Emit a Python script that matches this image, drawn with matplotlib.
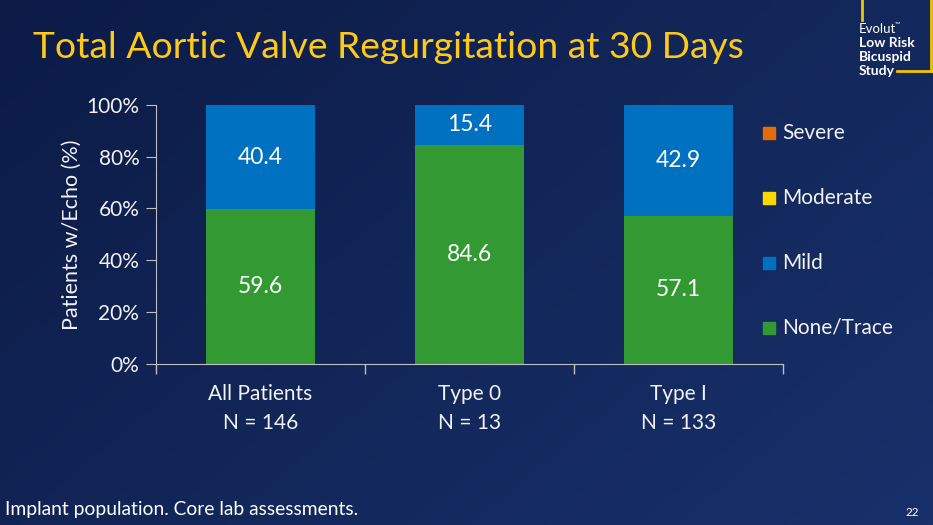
import numpy as np
import matplotlib
matplotlib.use("Agg")
import matplotlib.pyplot as plt

categories = ["All Patients\nN = 146", "Type 0\nN = 13", "Type I\nN = 133"]
none_trace = [59.6, 84.6, 57.1]
mild = [40.4, 15.4, 42.9]
moderate = [0.0, 0.0, 0.0]
severe = [0.0, 0.0, 0.0]
y_ticks = [0, 20, 40, 60, 80, 100]

plt.rcParams["font.family"] = ["Lato", "DejaVu Sans"]
TXT = "#f2f2f2"
colors = {"None/Trace": "#339933", "Mild": "#0070c0",
          "Moderate": "#ffd700", "Severe": "#e36c09"}

fig = plt.figure(figsize=(9.33, 5.25), dpi=100)

# background gradient
bg = fig.add_axes([0, 0, 1, 1])
gx = np.linspace(0, 1, 200)
gy = np.linspace(0, 1, 120)
X, Y = np.meshgrid(gx, gy)
t = 0.6 * X + 0.4 * Y
c0 = np.array([0x0c, 0x1b, 0x46]) / 255
c1 = np.array([0x18, 0x31, 0x6b]) / 255
img = c0[None, None, :] * (1 - t[..., None]) + c1[None, None, :] * t[..., None]
bg.imshow(img, aspect="auto", extent=[0, 1, 0, 1], origin="upper")
bg.set_xlim(0, 1)
bg.set_ylim(0, 1)
bg.axis("off")

ax = fig.add_axes([156 / 933, 1 - 363.5 / 525, (783 - 156) / 933, (363.5 - 105) / 525])
ax.patch.set_alpha(0)
x = np.arange(len(categories))
w = 0.525
ax.bar(x, none_trace, w, color=colors["None/Trace"])
ax.bar(x, mild, w, bottom=none_trace, color=colors["Mild"])
bottom2 = [a + b for a, b in zip(none_trace, mild)]
ax.bar(x, moderate, w, bottom=bottom2, color=colors["Moderate"])
bottom3 = [a + b for a, b in zip(bottom2, moderate)]
ax.bar(x, severe, w, bottom=bottom3, color=colors["Severe"])

for i in range(len(categories)):
    ax.text(x[i], none_trace[i] / 2, f"{none_trace[i]:.1f}", ha="center", va="center",
            color="white", fontsize=16.5)
    ax.text(x[i], none_trace[i] + mild[i] / 2, f"{mild[i]:.1f}", ha="center", va="center",
            color="white", fontsize=16.5)

ax.set_xlim(-0.5, len(categories) - 0.5)
ax.set_ylim(0, 100)
ax.set_yticks(y_ticks)
ax.set_yticklabels([f"{v}%" for v in y_ticks])
ax.set_xticks(x)
ax.set_xticklabels(categories, linespacing=1.55)
ax.set_xticks([-0.5, 0.5, 1.5, 2.5], minor=True)
ax.tick_params(axis="x", which="major", length=0, pad=15, labelsize=15, labelcolor=TXT)
ax.tick_params(axis="x", which="minor", length=7, color="#bfbfbf", width=1)
ax.tick_params(axis="y", length=7, color="#bfbfbf", labelsize=15, labelcolor=TXT, pad=5)
for s in ["top", "right"]:
    ax.spines[s].set_visible(False)
for s in ["left", "bottom"]:
    ax.spines[s].set_color("#bfbfbf")
ax.set_ylabel("Patients w/Echo (%)", color=TXT, fontsize=15.5, labelpad=3)

# legend
leg_items = ["Severe", "Moderate", "Mild", "None/Trace"]
for k, name in enumerate(leg_items):
    yy = 1 - (133 + 65 * k) / 525
    fig.patches.append(plt.Rectangle((763 / 933, yy - 6 / 525), 12 / 933, 12 / 525,
                                     transform=fig.transFigure, color=colors[name]))
    fig.text(782 / 933, yy, name, color=TXT, fontsize=15, va="center", ha="left")

fig.text(33 / 933, 1 - 47 / 525, "Total Aortic Valve Regurgitation at 30 Days",
         color="#ffc91a", fontsize=26.8, va="center", ha="left")
fig.text(5 / 933, 1 - 509 / 525, "Implant population. Core lab assessments.",
         color="white", fontsize=13.9, va="center", ha="left")
fig.text(905 / 933, 1 - 512 / 525, "22", color="white", fontsize=8.5, va="center", ha="left")

# study logo
yel = "#f5c400"
bg.plot([862 / 933, 862 / 933], [1, 1 - 20 / 525], color=yel, lw=2)
bg.plot([931 / 933, 931 / 933], [1, 1 - 71 / 525], color=yel, lw=2)
bg.plot([897 / 933, 931 / 933], [1 - 71 / 525, 1 - 71 / 525], color=yel, lw=2)
fig.text(859 / 933, 1 - 29 / 525, "Evolut", color="white", fontsize=9.5,
         va="center", ha="left")
fig.text(895 / 933, 1 - 24 / 525, "\u2122", color="white", fontsize=5,
         va="center", ha="left")
for j, line in enumerate(["Low Risk", "Bicuspid", "Study"]):
    fig.text(859 / 933, 1 - (43 + 14 * j) / 525, line, color="white", fontsize=10,
             fontweight="bold", va="center", ha="left")

fig.savefig("out.png", dpi=100)
